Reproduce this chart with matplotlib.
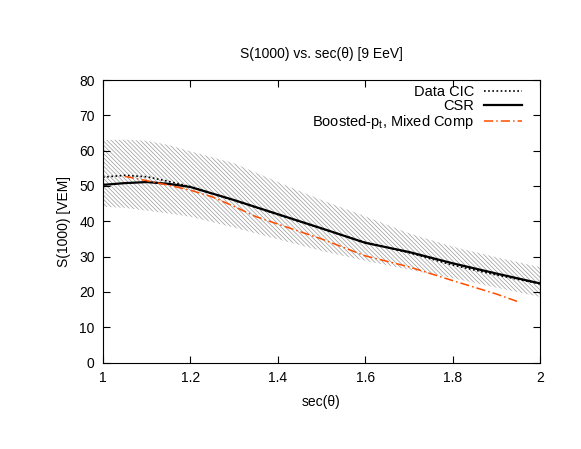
import matplotlib
matplotlib.use('Agg')
import matplotlib.pyplot as plt

plt.rcParams['font.family'] = ['Liberation Sans', 'DejaVu Sans']
plt.rcParams['hatch.linewidth'] = 0.5
plt.rcParams['hatch.color'] = '#9a9a9a'

# CIC data + uncertainty band
cic_x = [1.0, 1.05, 1.1, 1.15, 1.2, 1.3, 1.4, 1.5, 1.6, 1.7, 1.8, 1.9, 2.0]
cic_y = [52.5, 53.0, 52.6, 51.3, 49.8, 45.9, 41.9, 37.9, 34.0, 31.1, 27.6, 24.8, 22.3]
band_hi = [63.0, 63.1, 62.8, 61.6, 59.8, 56.4, 51.1, 46.0, 41.4, 36.6, 32.8, 29.8, 27.0]
band_lo = [44.1, 43.8, 43.0, 42.2, 41.3, 38.2, 34.9, 31.6, 28.8, 26.3, 23.9, 21.2, 18.6]

# CSR
csr_x = [1.0, 1.05, 1.1, 1.15, 1.2, 1.3, 1.4, 1.5, 1.6, 1.7, 1.8, 1.9, 2.0]
csr_y = [50.3, 50.8, 51.1, 50.6, 49.7, 46.0, 42.0, 38.0, 33.9, 31.3, 28.1, 25.2, 22.4]

# Boosted-pt, mixed composition
bpt_x = [1.05, 1.1, 1.15, 1.2, 1.25, 1.3, 1.35, 1.4, 1.5, 1.6, 1.7, 1.8, 1.9, 1.95]
bpt_y = [52.7, 51.5, 50.2, 48.8, 46.9, 44.2, 41.3, 39.2, 35.0, 30.2, 27.1, 23.2, 19.4, 17.2]

fig = plt.figure(figsize=(5.81, 4.49), dpi=100)
ax = fig.add_axes([103/581, 1-362.5/449, (540-103)/581, (362.5-80)/449])

ax.fill_between(cic_x, band_lo, band_hi, facecolor='none', edgecolor='#9a9a9a',
                linewidth=0, hatch='\\' * 8)
ax.plot(cic_x, cic_y, color='black', linestyle=(0, (1, 1.5)), linewidth=1.2, label='Data CIC')
ax.plot(csr_x, csr_y, color='black', linewidth=1.6, label='CSR')
ax.plot(bpt_x, bpt_y, color='#ff4d00', linestyle=(0, (6, 2, 1, 2)), linewidth=1.1,
        label='Boosted-p$_\\mathregular{t}$, Mixed Comp')

ax.set_xlim(1, 2)
ax.set_ylim(0, 80)
ax.set_xticks([1, 1.2, 1.4, 1.6, 1.8, 2])
ax.set_xticklabels(['1', '1.2', '1.4', '1.6', '1.8', '2'])
ax.set_yticks(range(0, 81, 10))
ax.tick_params(direction='in', top=True, right=True, length=5, width=0.8, labelsize=10, pad=6)

ax.set_title('S(1000) vs. sec(θ) [9 EeV]', fontsize=10, pad=16)
ax.set_xlabel('sec(θ)', fontsize=10, labelpad=7)
ax.set_ylabel('S(1000) [VEM]', fontsize=10, labelpad=6)

ax.legend(loc='upper right', bbox_to_anchor=(1 - 18/437, 1 - 5/282.5), frameon=False,
          markerfirst=False, fontsize=10.5, handlelength=2.6, labelspacing=0.0,
          borderaxespad=0, borderpad=0, handletextpad=0.7)

fig.savefig('out.png', dpi=100)
